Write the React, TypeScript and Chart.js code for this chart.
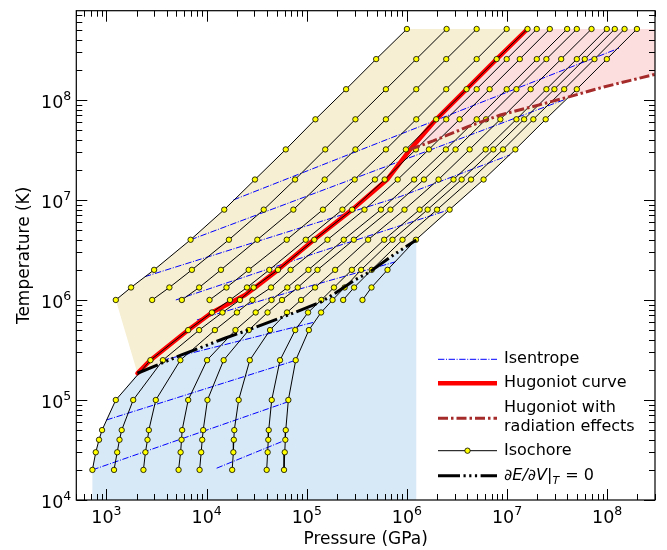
import React, { useEffect, useRef } from "react";
import { Chart, registerables } from "chart.js";

Chart.register(...registerables);

// ---------------- data ----------------
// temperature levels (K) at which isochore points were computed (top to bottom)
const T_LEVELS = [5.12e8, 2.56e8, 1.28e8, 6.4e7, 3.2e7, 1.6e7, 8e6, 4e6, 2e6, 1.333e6, 1e6, 7.5e5, 5e5, 2.5e5, 1e5, 5e4, 4e4, 3e4, 2e4];

// isochores: pressure (GPa) at each T level (aligned with T_LEVELS)
const iso1 = [1.0e6, 4.93e5, 2.47e5, 1.22e5, 6.17e4, 3.04e4, 1.5e4, 6.92e3, 2.99e3, 1.76e3, 1.24e3];
const iso2 = [2.49e6, 1.24e6, 6.17e5, 3.06e5, 1.53e5, 7.64e4, 3.72e4, 1.67e4, 7.13e3, 4.25e3, 2.86e3];
const iso3 = [4.97e6, 2.47e6, 1.24e6, 6.17e5, 3.06e5, 1.51e5, 7.35e4, 3.21e4, 1.39e4, 8.43e3, 5.66e3];
const iso4 = [9.91e6, 4.97e6, 2.47e6, 1.24e6, 6.17e5, 3.01e5, 1.45e5, 6.31e4, 2.63e4, 1.58e4, 1.07e4];
const iso5 = [1.6e7, 7.87e6, 3.94e6, 1.96e6, 9.77e5, 4.79e5, 2.27e5, 9.77e4, 4.23e4, 2.53e4, 1.71e4, 1.13e4, 6.55e3, 2.75e3, 1.24e3, 904, 843, 782, 724];
const iso6 = [1.98e7, 9.91e6, 4.97e6, 2.47e6, 1.23e6, 6.0e5, 2.84e5, 1.19e5, 5.16e4, 2.95e4, 2.15e4, 1.44e4, 8.43e3, 3.66e3, 1.85e3, 1.42e3, 1.35e3, 1.28e3, 1.19e3];
const iso7 = [2.67e7, 1.34e7, 6.7e6, 3.36e6, 1.66e6, 8.09e5, 3.77e5, 1.61e5, 6.89e4, 4.4e4, 2.87e4, 2.01e4, 1.21e4, 5.47e3, 3.11e3, 2.65e3, 2.57e3, 2.45e3, 2.34e3];
const iso8 = [3.98e7, 1.98e7, 9.91e6, 4.97e6, 2.45e6, 1.18e6, 5.5e5, 2.34e5, 1.04e5, 6.4e4, 4.45e4, 3.09e4, 1.94e4, 1.01e4, 6.55e3, 5.7e3, 5.62e3, 5.5e3, 5.25e3];
const iso9 = [4.97e7, 2.47e7, 1.24e7, 6.17e6, 3.06e6, 1.48e6, 6.85e5, 2.95e5, 1.28e5, 8.13e4, 5.66e4, 4.06e4, 2.64e4, 1.48e4, 1.02e4, 9.25e3, 9.04e3, 8.83e3, 8.51e3];
const iso10 = [6.97e7, 3.47e7, 1.72e7, 8.57e6, 4.23e6, 2.07e6, 9.46e5, 4.1e5, 1.92e5, 1.21e5, 8.77e4, 6.35e4, 4.3e4, 2.7e4, 2.09e4, 1.89e4, 1.87e4, 1.85e4, 1.8e4];
const iso11 = [9.91e7, 4.97e7, 2.47e7, 1.24e7, 6.11e6, 2.92e6, 1.34e6, 5.93e5, 2.82e5, 1.87e5, 1.4e5, 1.03e5, 7.67e4, 5.41e4, 4.47e4, 4.17e4, 4.13e4, 4.07e4, 3.98e4];
const iso12 = [1.19e8, 5.97e7, 2.97e7, 1.48e7, 7.29e6, 3.52e6, 1.61e6, 7.18e5, 3.49e5, 2.39e5, 1.81e5, 1.39e5, 1.05e5, 7.76e4, 6.55e4, 6.17e4, 6.11e4, 6.03e4, 5.93e4];
const iso13 = [1.49e8, 7.46e7, 3.72e7, 1.83e7, 9.12e6, 4.37e6, 2.0e6, 9.04e5, 4.45e5, 2.97e5, 2.31e5];
const iso14 = [1.98e8, 9.91e7, 4.97e7, 2.43e7, 1.21e7, 5.83e6, 2.67e6, 1.23e6, 6.4e5, 4.43e5, 3.6e5];

// Hugoniot curve
const hugP = [2.04e3, 2.75e3, 6.55e3, 1.13e4, 1.79e4, 2.42e4, 3.11e4, 5.16e4, 1.18e5, 2.84e5, 6.35e5, 1.08e6, 1.96e6, 3.94e6, 7.87e6, 1.6e7];
const hugT = [1.85e5, 2.5e5, 5e5, 7.5e5, 9.55e5, 1.12e6, 1.35e6, 2e6, 4e6, 8e6, 1.6e7, 3.2e7, 6.4e7, 1.28e8, 2.56e8, 5.12e8];

// Hugoniot with radiation effects
const radP = [1.08e6, 1.83e6, 4.01e6, 8.57e6, 1.83e7, 3.83e7, 8.57e7, 1.71e8, 3.41e8];
const radT = [3.2e7, 3.89e7, 5.37e7, 7.08e7, 8.61e7, 1.05e8, 1.32e8, 1.57e8, 1.86e8];

// dE/dV|_T = 0 line
const dedvP = [2.04e3, 5.62e3, 1.52e4, 2.61e4, 6.55e4, 1.41e5, 1.92e5, 3.04e5, 4.3e5, 7.35e5, 1.24e6];
const dedvT = [1.85e5, 2.82e5, 4.14e5, 5.01e5, 7.08e5, 9.62e5, 1.17e6, 1.59e6, 1.92e6, 2.82e6, 3.98e6];

// isentropes
const isen1P = [1.85e4, 1.31e8];
const isen1T = [1e7, 3.29e8];
const isen2P = [6.92e3, 3.68e7];
const isen2T = [4e6, 1e8];
const isen3P = [2.42e3, 8.57e5, 1.07e7];
const isen3T = [1.71e6, 1.08e7, 2.82e7];
const isen4P = [4.93e3, 1.36e5, 2.67e6];
const isen4T = [1e6, 3.04e6, 8e6];
const isen5P = [8.0e3, 8.57e4, 7.64e5];
const isen5T = [6.31e5, 1.29e6, 2.4e6];
const isen6P = [3.66e3, 1.16e5];
const isen6T = [2.5e5, 5.96e5];
const isen7P = [1e3, 7.94e4];
const isen7T = [6.31e4, 2.51e5];
const isen8P = [724, 6.55e4];
const isen8T = [2e4, 9.62e4];
const isen9P = [1.26e4, 5.62e4];
const isen9T = [2.08e4, 3.83e4];

// axis ranges
const P_MIN = 500;
const P_MAX = 3e8;
const T_MIN = 1e4;
const T_MAX = 7.8e8;

// ---------------- styles ----------------
const FONT = "'DejaVu Sans', sans-serif";
const BEIGE = "#f6efd3";
const PINK = "#fddede";
const LBLUE = "#d7e8f6";
const ISEN_DASH = [6.4, 1.6, 1, 1.6];
const RAD_DASH = [10, 3, 2.5, 3];
const DEDV_DASH = [22, 3.5, 2.2, 3.5, 2.2, 3.5, 2.2, 3.5];
const RAD_COLOR = "#a52a2a";

const pts = (P: number[], T: number[]) => P.map((p, i) => ({ x: p, y: T[i] }));
const isoPts = (P: number[]) => P.map((p, i) => ({ x: p, y: T_LEVELS[i] }));

function buildPolygons() {
  // beige: iso1 (bottom->top), top of iso14 down, dE/dV back to start
  const beige = [
    ...isoPts(iso1).reverse(),
    ...isoPts(iso14),
    ...pts(dedvP, dedvT).reverse(),
  ];
  // pink: Hugoniot from branching point up, then right edge, radiation Hugoniot back
  const hugPts = pts(hugP, hugT);
  const radPts = pts(radP, radT);
  const pink = [
    ...hugPts.slice(11),
    { x: radP[radP.length - 1], y: T_LEVELS[0] },
    ...radPts.reverse(),
  ];
  // light blue: lowest isochore on the left, dE/dV on top, vertical right edge
  const b1 = isoPts(iso5).slice(14).reverse();
  const blue = [
    { x: iso5[iso5.length - 1], y: T_MIN },
    ...b1,
    ...pts(dedvP, dedvT),
    { x: dedvP[dedvP.length - 1], y: T_MIN },
  ];
  return { beige, pink, blue };
}

function logTicks(min: number, max: number) {
  const out: { v: number; major: boolean; d: number }[] = [];
  for (let d = Math.floor(Math.log10(min)); d <= Math.ceil(Math.log10(max)); d++) {
    for (let m = 1; m <= 9; m++) {
      const v = m * Math.pow(10, d);
      if (v >= min * 0.9999 && v <= max * 1.0001) out.push({ v, major: m === 1, d });
    }
  }
  return out;
}

const axesPlugin = {
  id: "axesPlugin",
  afterDraw(chart: any) {
    const { ctx, chartArea: a } = chart;
    const xs = chart.scales.x;
    const ys = chart.scales.y;
    ctx.save();
    ctx.strokeStyle = "#000";
    ctx.lineWidth = 1.2;
    ctx.setLineDash([]);
    ctx.strokeRect(a.left, a.top, a.right - a.left, a.bottom - a.top);
    ctx.lineWidth = 1;
    const MAJ = 11;
    const MIN = 6;
    const xt = logTicks(P_MIN, P_MAX);
    const yt = logTicks(T_MIN, T_MAX);
    ctx.beginPath();
    for (const t of xt) {
      const px = Math.round(xs.getPixelForValue(t.v)) + 0.5;
      const len = t.major ? MAJ : MIN;
      ctx.moveTo(px, a.bottom);
      ctx.lineTo(px, a.bottom - len);
      ctx.moveTo(px, a.top);
      ctx.lineTo(px, a.top + len);
    }
    for (const t of yt) {
      const py = Math.round(ys.getPixelForValue(t.v)) + 0.5;
      const len = t.major ? MAJ : MIN;
      ctx.moveTo(a.left, py);
      ctx.lineTo(a.left + len, py);
      ctx.moveTo(a.right, py);
      ctx.lineTo(a.right - len, py);
    }
    ctx.stroke();

    const base = "17.5px " + FONT;
    const supF = "12.5px " + FONT;
    ctx.fillStyle = "#000";
    ctx.textBaseline = "alphabetic";
    ctx.textAlign = "left";
    for (const t of xt) {
      if (!t.major) continue;
      const px = xs.getPixelForValue(t.v);
      ctx.font = base;
      const w1 = ctx.measureText("10").width;
      ctx.font = supF;
      const w2 = ctx.measureText(String(t.d)).width;
      const left = px - (w1 + w2) / 2;
      ctx.font = base;
      ctx.fillText("10", left, a.bottom + 23);
      ctx.font = supF;
      ctx.fillText(String(t.d), left + w1, a.bottom + 15);
    }
    for (const t of yt) {
      if (!t.major) continue;
      const py = ys.getPixelForValue(t.v);
      ctx.font = base;
      const w1 = ctx.measureText("10").width;
      ctx.font = supF;
      const w2 = ctx.measureText(String(t.d)).width;
      const left = a.left - 5 - w1 - w2;
      ctx.font = base;
      ctx.fillText("10", left, py + 8);
      ctx.font = supF;
      ctx.fillText(String(t.d), left + w1, py);
    }
    // axis titles
    ctx.font = "17px " + FONT;
    ctx.textAlign = "center";
    ctx.fillText("Pressure (GPa)", (a.left + a.right) / 2, 544);
    ctx.save();
    ctx.translate(29, (a.top + a.bottom) / 2);
    ctx.rotate(-Math.PI / 2);
    ctx.fillText("Temperature (K)", 0, 0);
    ctx.restore();
    ctx.restore();
  },
};

const legendPlugin = {
  id: "legendPlugin",
  afterDraw(chart: any) {
    const { ctx, chartArea: a } = chart;
    const x0 = a.right - 217;
    const x1 = a.right - 158;
    const tx = a.right - 151;
    const b = a.bottom;
    ctx.save();
    ctx.textAlign = "left";
    ctx.textBaseline = "middle";
    ctx.fillStyle = "#000";
    const font = "16px " + FONT;
    const line = (y: number, color: string, w: number, dash: number[]) => {
      ctx.beginPath();
      ctx.strokeStyle = color;
      ctx.lineWidth = w;
      ctx.setLineDash(dash);
      ctx.moveTo(x0, y);
      ctx.lineTo(x1, y);
      ctx.stroke();
    };
    // Isentrope
    let y = b - 140.7;
    line(y, "#0000ff", 1, ISEN_DASH);
    ctx.font = font;
    ctx.fillText("Isentrope", tx, y);
    // Hugoniot
    y = b - 116.7;
    line(y, "#ff0000", 4.5, []);
    ctx.fillText("Hugoniot curve", tx, y);
    // radiation
    y = b - 81.7;
    line(y, RAD_COLOR, 3, RAD_DASH);
    ctx.fillText("Hugoniot with", tx, b - 92.3);
    ctx.fillText("radiation effects", tx, b - 73.3);
    // Isochore
    y = b - 49.3;
    line(y, "#000", 1, []);
    ctx.setLineDash([]);
    ctx.beginPath();
    ctx.arc((x0 + x1) / 2, y, 2.7, 0, Math.PI * 2);
    ctx.fillStyle = "#ffff00";
    ctx.fill();
    ctx.lineWidth = 0.8;
    ctx.strokeStyle = "#000";
    ctx.stroke();
    ctx.fillStyle = "#000";
    ctx.fillText("Isochore", tx, y);
    // dE/dV
    y = b - 24.3;
    line(y, "#000", 3, DEDV_DASH);
    let x = tx;
    ctx.font = "italic 16px " + FONT;
    ctx.fillText("\u2202E/\u2202V", x, y);
    x += ctx.measureText("\u2202E/\u2202V").width;
    ctx.font = font;
    ctx.fillText("|", x, y);
    x += ctx.measureText("|").width;
    ctx.font = "italic 11px " + FONT;
    ctx.fillText("T", x, y + 5);
    x += ctx.measureText("T").width;
    ctx.font = font;
    ctx.fillText(" = 0", x + 1, y);
    ctx.restore();
  },
};

export default function App() {
  const ref = useRef<HTMLCanvasElement>(null);
  useEffect(() => {
    if (!ref.current) return;
    const { beige, pink, blue } = buildPolygons();
    const polyDs = (data: any[], color: string, order: number) => ({
      data,
      fill: "shape",
      backgroundColor: color,
      borderColor: "transparent",
      borderWidth: 0,
      pointRadius: 0,
      order,
    });
    const isenDs = (P: number[], T: number[]) => ({
      data: pts(P, T),
      borderColor: "#0000ff",
      borderWidth: 1,
      borderDash: ISEN_DASH,
      pointRadius: 0,
      fill: false,
      order: 7,
    });
    const isoDs = (P: number[]) => ({
      data: isoPts(P),
      borderColor: "#000",
      borderWidth: 1,
      pointRadius: 2.7,
      pointBorderWidth: 0.8,
      pointBackgroundColor: "#ffff00",
      pointBorderColor: "#000",
      fill: false,
      order: 5,
    });
    const isochores = [iso1, iso2, iso3, iso4, iso5, iso6, iso7, iso8, iso9, iso10, iso11, iso12, iso13, iso14];
    const datasets: any[] = [
      polyDs(beige, BEIGE, 10),
      polyDs(pink, PINK, 9),
      polyDs(blue, LBLUE, 8),
      isenDs(isen1P, isen1T),
      isenDs(isen2P, isen2T),
      isenDs(isen3P, isen3T),
      isenDs(isen4P, isen4T),
      isenDs(isen5P, isen5T),
      isenDs(isen6P, isen6T),
      isenDs(isen7P, isen7T),
      isenDs(isen8P, isen8T),
      isenDs(isen9P, isen9T),
      {
        data: pts(hugP, hugT),
        borderColor: "#ff0000",
        borderWidth: 4.5,
        borderJoinStyle: "round",
        borderCapStyle: "round",
        pointRadius: 0,
        fill: false,
        order: 6,
      },
      ...isochores.map(isoDs),
      {
        data: pts(radP, radT),
        borderColor: RAD_COLOR,
        borderWidth: 3,
        borderDash: RAD_DASH,
        pointRadius: 0,
        fill: false,
        order: 4,
      },
      {
        data: pts(dedvP, dedvT),
        borderColor: "#000",
        borderWidth: 3,
        borderDash: DEDV_DASH,
        pointRadius: 0,
        fill: false,
        order: 3,
      },
    ];
    const chart = new Chart(ref.current, {
      type: "line",
      data: { datasets },
      options: {
        responsive: false,
        animation: false,
        devicePixelRatio: 1,
        events: [],
        layout: { padding: { left: 76.3, right: 12, top: 10.7, bottom: 50 } },
        scales: {
          x: { type: "logarithmic", min: P_MIN, max: P_MAX, display: false },
          y: { type: "logarithmic", min: T_MIN, max: T_MAX, display: false },
        },
        elements: { line: { tension: 0 } },
        plugins: { legend: { display: false }, tooltip: { enabled: false } },
      },
      plugins: [axesPlugin, legendPlugin],
    } as any);
    return () => chart.destroy();
  }, []);
  return (
    <div style={{ position: "absolute", left: 0, top: 0, width: 667, height: 550, background: "#fff" }}>
      <canvas ref={ref} width={667} height={550} style={{ width: 667, height: 550, display: "block" }} />
    </div>
  );
}
